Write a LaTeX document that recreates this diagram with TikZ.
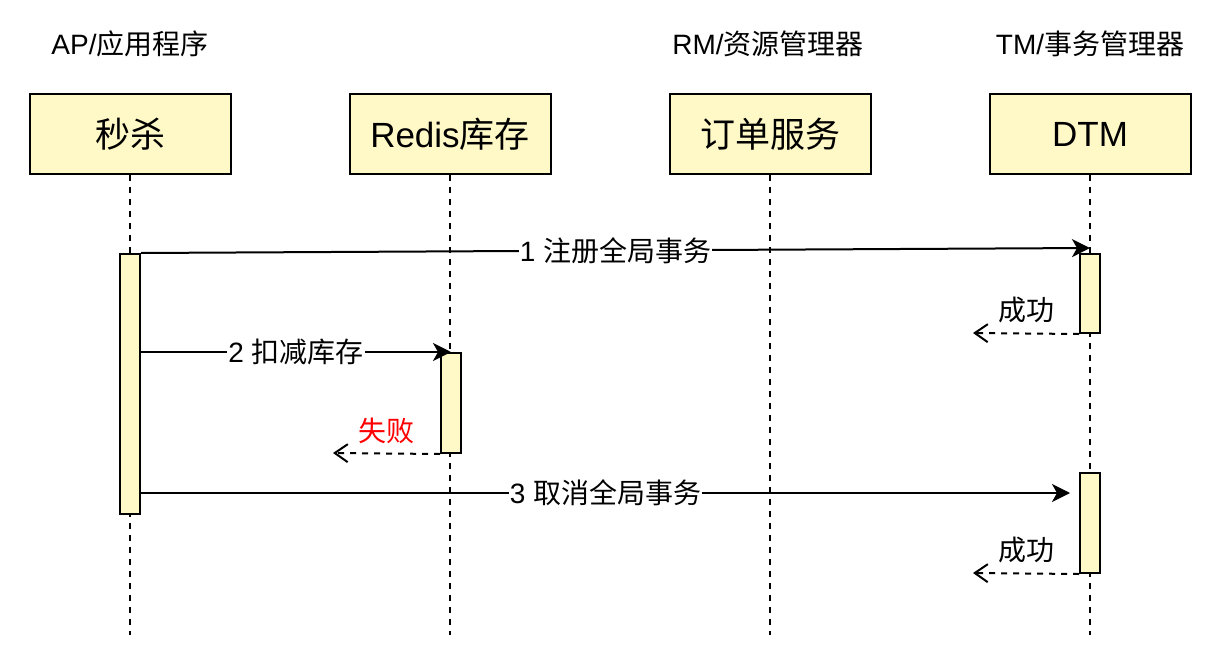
\documentclass[tikz,border=0pt]{standalone}
\usepackage{fontspec}
\setmainfont{Liberation Sans}
\newfontfamily\zh{Noto Sans CJK SC}
\usetikzlibrary{arrows.meta}
\definecolor{notefill}{RGB}{255,249,199}

\tikzset{
  obj/.style={draw,line width=2pt,fill=notefill,minimum width=201pt,minimum height=80pt,inner sep=0pt,font=\fontsize{35}{40}\selectfont},
  act/.style={draw,line width=2pt,fill=notefill,minimum width=20pt,inner sep=0pt},
  life/.style={line width=2pt,dash pattern=on 6pt off 6pt},
  msg/.style={line width=2pt,-{Stealth[length=18pt,width=18pt,inset=5pt]}},
  ret/.style={line width=2pt,dash pattern=on 6pt off 6pt,-{Straight Barb[length=13pt,width=18pt,line width=2pt]}},
  lbl/.style={font=\fontsize{28}{32}\selectfont,inner sep=1pt},
}

\begin{document}
\begin{tikzpicture}[x=1pt,y=-1pt]
\useasboundingbox (0,0) rectangle (1220,666);
% roles
\node[lbl] (ap) at (130,44) {AP/{\zh 应用程序}};
\node[lbl] (rm) at (768,44) {RM/{\zh 资源管理器}};
\node[lbl] (tm) at (1090,44) {TM/{\zh 事务管理器}};
% objects and lifelines
\foreach \x/\name/\txt in {130/sk/{\zh 秒杀},450/rd/{Redis{\zh 库存}},770/od/{\zh 订单服务},1090/dtm/{DTM}}{
  \node[obj] (\name) at (\x,134) {\txt};
  \coordinate (\name end) at (\x,635);
  \draw[life] (\name) -- (\name end);
}
% activations
\node[act,minimum height=260pt] (skbar) at (130,384) {};
\node[act,minimum height=79pt] (dtm1) at (1090,293.5) {};
\node[act,minimum height=100pt] (rd1) at (451,403) {};
\node[act,minimum height=100pt] (dtm2) at (1090,523) {};
\coordinate (m3) at (1070,493);
\coordinate (r1) at (973,333);
\coordinate (r2) at (333,453);
\coordinate (r3) at (973,573);
% messages
\draw[msg] (skbar.north east) -- ([yshift=5pt]dtm1.north) node[midway,lbl,fill=white] {1 {\zh 注册全局事务}};
\draw[ret] (dtm1.south west) -- (r1) node[midway,lbl,above=9pt] {\zh 成功};
\draw[msg] (skbar.east |- rd1.north) -- (rd1.north) node[midway,lbl,fill=white] {2 {\zh 扣减库存}};
\draw[ret] (rd1.south west) -- (r2) node[midway,lbl,above=8pt,text=red] {\zh 失败};
\draw[msg] (skbar.east |- m3) -- (m3) node[midway,lbl,fill=white] {3 {\zh 取消全局事务}};
\draw[ret] (dtm2.south west) -- (r3) node[midway,lbl,above=9pt] {\zh 成功};
\end{tikzpicture}
\end{document}
